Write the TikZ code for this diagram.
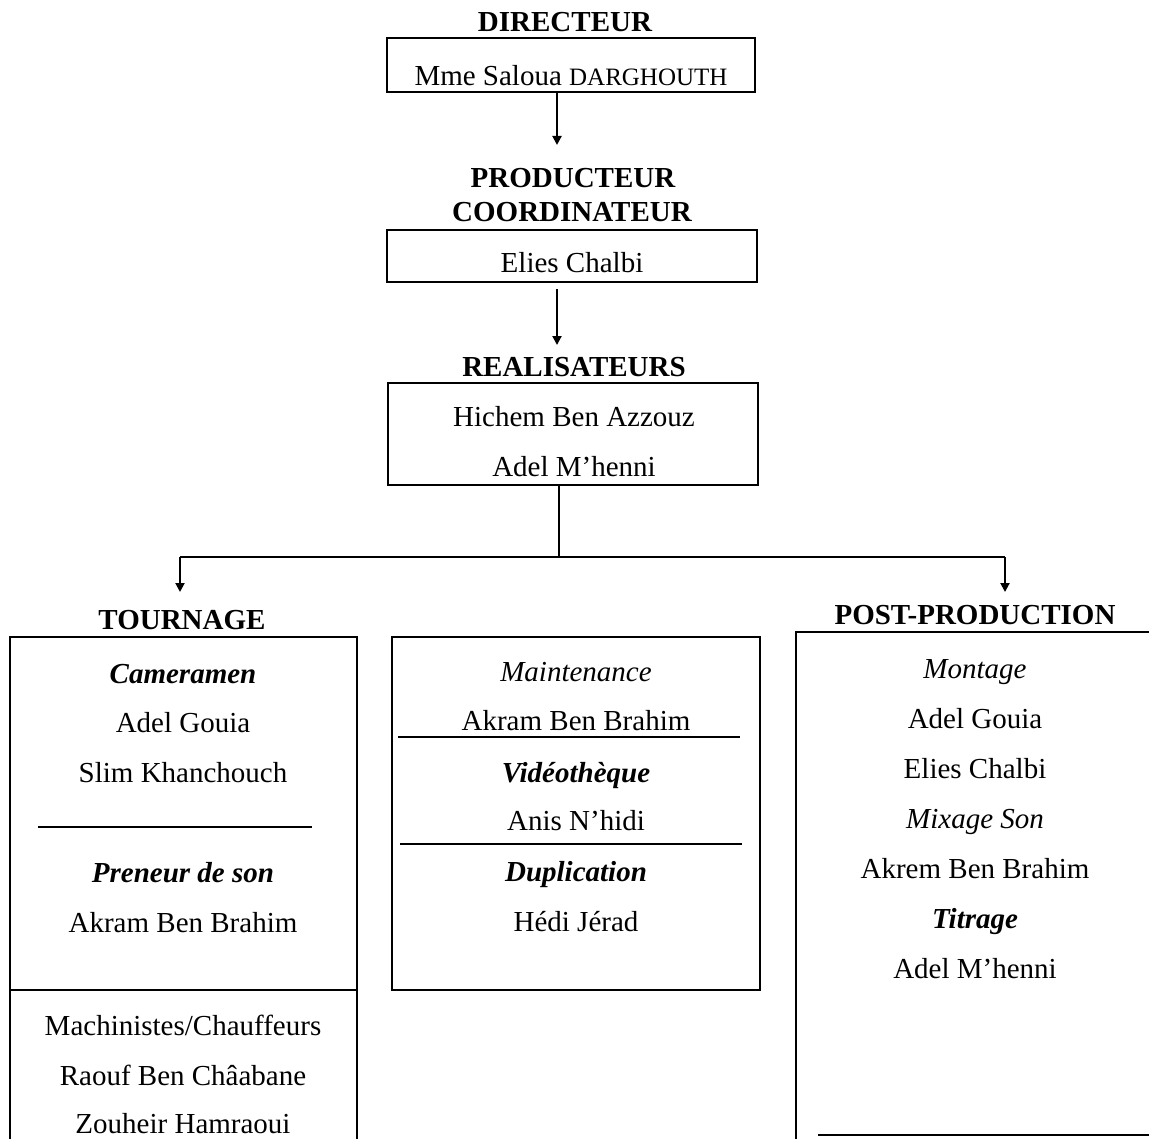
\documentclass[tikz,border=0pt]{standalone}
\usepackage{fontspec}
\setmainfont{Liberation Serif}
\usetikzlibrary{arrows.meta}
\newcommand\pxu{0.5pt}
\begin{document}
\begin{tikzpicture}[x=0.5pt,y=-0.5pt,
  every node/.style={font=\fontsize{14.5}{17}\selectfont, inner sep=0pt},
  txt/.style={anchor=base},
  head/.style={anchor=base, font=\fontsize{14.5}{17}\selectfont\bfseries},
  role/.style={anchor=base, font=\fontsize{14.5}{17}\selectfont\itshape},
  brole/.style={anchor=base, font=\fontsize{14.5}{17}\selectfont\bfseries\itshape},
  box/.style={draw, line width=1pt, inner sep=0pt},
  frame/.style={line width=1pt},
  sep/.style={line width=1.2pt},
  conn/.style={line width=1pt},
  arr/.style={line width=1pt, -{Triangle[length=4.5pt,width=4.5pt]}}]
\useasboundingbox (0,0) rectangle (1149,1139);

% top chain
\node[head] (hdir) at (565,32) {DIRECTEUR};
\node[box, minimum width=368*\pxu, minimum height=54*\pxu] (b1) at (571,65) {};
\node[txt] (t1) at (571,86) {Mme Saloua {\fontsize{12.5}{15}\selectfont DARGHOUTH}};

\coordinate (a1) at (557,145);
\draw[arr] (b1.south -| a1) -- (a1);

\node[head] (hprod) at (573,188) {PRODUCTEUR};
\node[head] (hcoord) at (572,221) {COORDINATEUR};
\node[box, minimum width=370*\pxu, minimum height=52*\pxu] (b2) at (572,256) {};
\node[txt] (t2) at (572,272) {Elies Chalbi};

\coordinate (a2s) at (557,289);
\coordinate (a2) at (557,345);
\draw[arr] (a2s) -- (a2);

\node[head] (hreal) at (574,376) {REALISATEURS};
\node[box, minimum width=370*\pxu, minimum height=102*\pxu] (b3) at (573,434) {};
\node[txt] (t3a) at (574,426) {Hichem Ben Azzouz};
\node[txt] (t3b) at (574,476) {Adel M’henni};

% branching
\coordinate (j) at (559,557);
\coordinate (jl) at (180,557);
\coordinate (jr) at (1005,557);
\coordinate (al) at (180,592);
\coordinate (ar) at (1005,592);
\draw[conn] (b3.south -| j) -- (j);
\draw[conn] (jl) -- (jr);
\draw[arr] (jl) -- (al);
\draw[arr] (jr) -- (ar);

% TOURNAGE
\node[head] (htour) at (182,629) {TOURNAGE};
\draw[frame] (10,1139) -- (10,637) -- (357,637) -- (357,1139);
\draw[frame] (10,990) -- (357,990);
\draw[sep] (38,827) -- (312,827);
\node[brole] (l1) at (183,683) {Cameramen};
\node[txt] (l2) at (183,732) {Adel Gouia};
\node[txt] (l3) at (183,782) {Slim Khanchouch};
\node[brole] (l4) at (183,882) {Preneur de son};
\node[txt] (l5) at (183,932) {Akram Ben Brahim};
\node[txt] (l6) at (183,1035) {Machinistes/Chauffeurs};
\node[txt] (l7) at (183,1085) {Raouf Ben Châabane};
\node[txt] (l8) at (183,1133) {Zouheir Hamraoui};

% middle
\node[box, minimum width=368*\pxu, minimum height=353*\pxu] (bm) at (576,813.5) {};
\node[role] (m1) at (576,681) {Maintenance};
\node[txt] (m2) at (576,730) {Akram Ben Brahim};
\draw[sep] (398,737) -- (740,737);
\node[brole] (m3) at (576,782) {Vidéothèque};
\node[txt] (m4) at (576,830) {Anis N’hidi};
\draw[sep] (400,844) -- (742,844);
\node[brole] (m5) at (576,881) {Duplication};
\node[txt] (m6) at (576,931) {Hédi Jérad};

% POST-PRODUCTION
\node[head] (hpost) at (975,624) {POST-PRODUCTION};
\draw[frame] (796,1139) -- (796,632) -- (1149,632);
\draw[frame] (818,1135) -- (1149,1135);
\node[role] (r1) at (975,678) {Montage};
\node[txt] (r2) at (975,728) {Adel Gouia};
\node[txt] (r3) at (975,778) {Elies Chalbi};
\node[role] (r4) at (975,828) {Mixage Son};
\node[txt] (r5) at (975,878) {Akrem Ben Brahim};
\node[brole] (r6) at (975,928) {Titrage};
\node[txt] (r7) at (975,978) {Adel M’henni};
\end{tikzpicture}
\end{document}
